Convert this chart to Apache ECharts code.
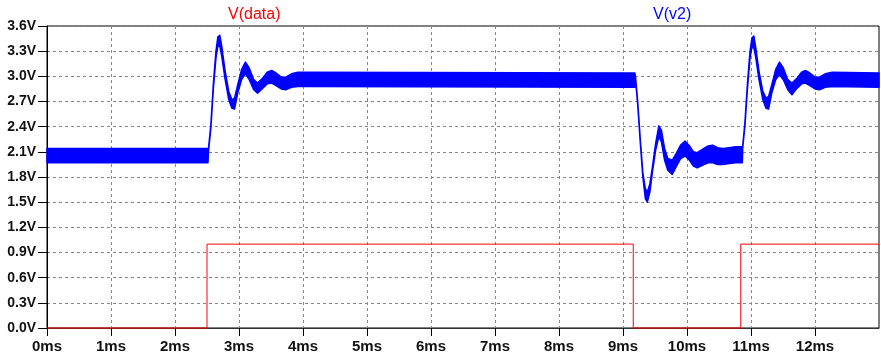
<!DOCTYPE html>
<html>
<head>
<meta charset="utf-8">
<script src="https://cdn.jsdelivr.net/npm/echarts@6/dist/echarts.min.js"></script>
<style>
  html, body { margin: 0; padding: 0; background: #fff; }
  #chart { width: 881px; height: 361px; }
</style>
</head>
<body>
<div id="chart"></div>
<script>
// V(data): square control signal
const dataT = [0, 2.5, 2.5, 9.16, 9.16, 10.84, 10.84, 13];
const dataV = [0, 0, 1, 1, 0, 0, 1, 1];

// V(v2): ripple envelope (upper / lower edge of the band)
const v2T = [
  0, 2.515, 2.525, 2.56, 2.60, 2.64, 2.67, 2.70, 2.73, 2.78,
  2.84, 2.89, 2.93, 2.98, 3.04, 3.10, 3.16, 3.23, 3.29, 3.36,
  3.44, 3.51, 3.58, 3.66, 3.73, 3.82, 3.92, 4.05, 9.185,
  9.195, 9.23, 9.27, 9.31, 9.35, 9.38, 9.42, 9.46, 9.51, 9.56,
  9.60, 9.65, 9.70, 9.77, 9.83, 9.90, 9.97, 10.04, 10.10, 10.16,
  10.24, 10.33, 10.40, 10.48, 10.56, 10.66, 10.76, 10.865,
  10.87, 10.905, 10.945, 10.985, 11.015, 11.045, 11.075, 11.125, 11.185, 11.235,
  11.275, 11.325, 11.385, 11.445, 11.505, 11.575, 11.64, 11.71, 11.79, 11.85,
  11.92, 12.00, 12.07, 12.16, 12.27, 13
];
const v2Hi = [
  2.14, 2.14, 2.15, 2.42, 2.92, 3.30, 3.47, 3.49, 3.36, 3.08,
  2.82, 2.72, 2.74, 2.90, 3.08, 3.17, 3.10, 2.96, 2.92, 2.97,
  3.05, 3.07, 3.04, 2.99, 2.99, 3.03, 3.05, 3.05, 3.04,
  3.00, 2.70, 2.25, 1.85, 1.66, 1.62, 1.72, 1.92, 2.20, 2.41,
  2.36, 2.14, 2.02, 2.00, 2.08, 2.18, 2.23, 2.17, 2.10, 2.09,
  2.13, 2.17, 2.18, 2.15, 2.14, 2.15, 2.16, 2.16,
  2.17, 2.45, 2.92, 3.30, 3.46, 3.48, 3.34, 3.06, 2.82, 2.74,
  2.76, 2.90, 3.08, 3.17, 3.10, 2.96, 2.92, 2.97, 3.05, 3.07,
  3.04, 2.99, 2.99, 3.03, 3.05, 3.04
];
const v2Lo = [
  1.97, 1.97, 2.12, 2.38, 2.86, 3.22, 3.36, 3.36, 3.24, 2.98,
  2.72, 2.62, 2.61, 2.80, 2.96, 3.03, 2.96, 2.84, 2.80, 2.85,
  2.91, 2.92, 2.89, 2.85, 2.84, 2.87, 2.88, 2.88, 2.87,
  2.96, 2.66, 2.21, 1.80, 1.54, 1.50, 1.62, 1.86, 2.12, 2.28,
  2.22, 2.00, 1.88, 1.83, 1.92, 2.02, 2.05, 2.00, 1.93, 1.91,
  1.94, 1.97, 1.97, 1.95, 1.95, 1.96, 1.97, 1.97,
  2.14, 2.41, 2.86, 3.22, 3.35, 3.34, 3.22, 2.96, 2.72, 2.62,
  2.61, 2.80, 2.96, 3.02, 2.96, 2.84, 2.78, 2.85, 2.91, 2.92,
  2.89, 2.85, 2.84, 2.87, 2.88, 2.87
];

const xTicks = [0, 1, 2, 3, 4, 5, 6, 7, 8, 9, 10, 11, 12];

const FONT = 'Liberation Sans, Arial, sans-serif';
const chart = echarts.init(document.getElementById('chart'));

// the ripple is drawn as one filled band between the two envelope edges
const renderBand = (params, api) => {
  if (params.dataIndex !== 0) return;
  const upper = v2T.map((t, i) => api.coord([t, v2Hi[i]]));
  const lower = v2T.map((t, i) => api.coord([t, v2Lo[i]])).reverse();
  return {
    type: 'polygon',
    shape: { points: upper.concat(lower) },
    style: { fill: '#0000ff', stroke: '#0000ff', lineWidth: 1.5, lineJoin: 'round' }
  };
};

const option = {
  animation: false,
  backgroundColor: '#fff',
  grid: {
    left: 47, right: 2, top: 26, bottom: 33,
    show: true, borderColor: '#000', borderWidth: 1
  },
  graphic: [
    { type: 'text', left: 228, top: 7, style: { text: 'V(data)', fill: '#ff0000', font: '16px ' + FONT } },
    { type: 'text', left: 653, top: 7, style: { text: 'V(v2)', fill: '#0000ff', font: '16px ' + FONT } }
  ],
  xAxis: {
    type: 'value', min: 0, max: 13, interval: 1,
    axisLine: { lineStyle: { color: '#333', width: 1 } },
    axisTick: { show: true, length: 8, lineStyle: { color: '#000' }, customValues: xTicks },
    axisLabel: {
      customValues: xTicks, margin: 11,
      color: '#111', fontSize: 15, fontWeight: 'bold', fontFamily: FONT,
      formatter: v => v + 'ms'
    },
    splitLine: { show: true, lineStyle: { color: '#888', type: [3, 3], width: 1 } }
  },
  yAxis: {
    type: 'value', min: 0, max: 3.6, interval: 0.3,
    axisLine: { show: true, lineStyle: { color: '#000', width: 1 } },
    axisTick: { show: true, length: 9, lineStyle: { color: '#000' } },
    axisLabel: {
      margin: 11, color: '#111', fontSize: 14, fontWeight: 'bold', fontFamily: FONT,
      formatter: v => v.toFixed(1) + 'V'
    },
    splitLine: { show: true, lineStyle: { color: '#888', type: [3, 3], width: 1 } }
  },
  series: [
    {
      name: 'V(data)', type: 'line', symbol: 'none', clip: false,
      data: dataT.map((t, i) => [t, dataV[i]]),
      lineStyle: { color: '#ff0000', width: 1 }, z: 3
    },
    {
      name: 'V(v2)', type: 'custom', renderItem: renderBand,
      data: v2T.map((t, i) => [t, v2Lo[i], v2Hi[i]]),
      encode: { x: 0, y: [1, 2] }, z: 4
    }
  ]
};

chart.setOption(option);
</script>
</body>
</html>
